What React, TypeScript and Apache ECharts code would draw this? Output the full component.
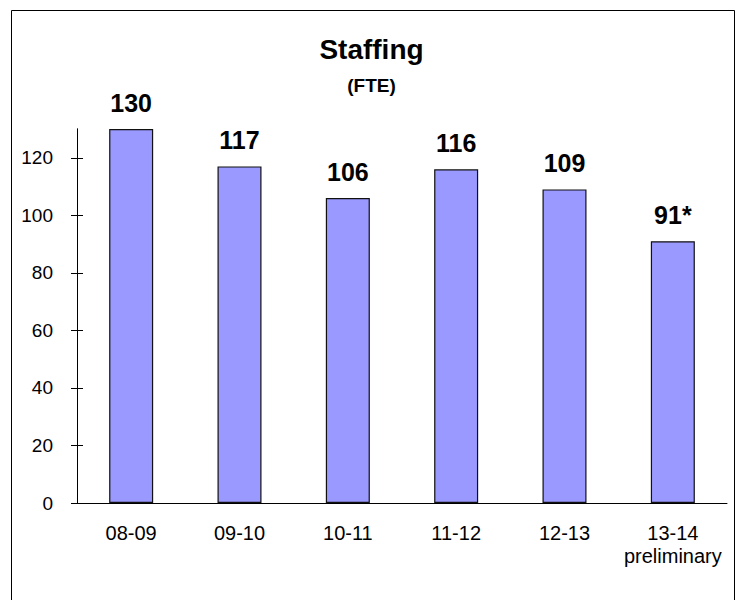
import React, { useEffect, useRef } from "react";
import * as echarts from "echarts";

const categories = ["08-09", "09-10", "10-11", "11-12", "12-13", "13-14\npreliminary"];
const values = [130, 117, 106, 116, 109, 91];
const labelSuffix = ["", "", "", "", "", "*"];
const yTicks = [0, 20, 40, 60, 80, 100, 120];
const titleText = "Staffing";
const subtitleText = "(FTE)";
const yMin = 0;
const yMax = 130;
const yInterval = 20;

const FONT = "'Liberation Sans', Arial, sans-serif";

export default function App() {
  const ref = useRef<HTMLDivElement>(null);
  useEffect(() => {
    if (!ref.current) return;
    const chart = echarts.init(ref.current, undefined, { renderer: "svg" });
    const yBase = {
      type: "value" as const,
      min: yMin,
      max: yMax,
      interval: yInterval,
      splitLine: { show: false },
      axisLine: { show: true, lineStyle: { color: "#000", width: 1 } },
    };
    chart.setOption({
      animation: false,
      backgroundColor: "#fff",
      textStyle: { fontFamily: FONT },
      title: [
        {
          text: titleText,
          left: "center",
          top: 30,
          textStyle: { fontFamily: FONT, fontSize: 28, fontWeight: "bold", color: "#000", lineHeight: 28 },
        },
        {
          text: subtitleText,
          left: "center",
          top: 71,
          textStyle: { fontFamily: FONT, fontSize: 19, fontWeight: "bold", color: "#000", lineHeight: 19 },
        },
      ],
      graphic: [
        {
          type: "rect",
          shape: { x: 11.5, y: 10.5, width: 723, height: 600 },
          style: { fill: "none", stroke: "#000", lineWidth: 1 },
          silent: true,
        },
      ],
      grid: { left: 77, right: 16, top: 129, bottom: 97, containLabel: false },
      xAxis: {
        type: "category",
        data: categories,
        axisLine: { show: true, lineStyle: { color: "#000", width: 1 } },
        axisTick: { show: false },
        axisLabel: {
          interval: 0,
          color: "#000",
          fontFamily: FONT,
          fontSize: 20,
          lineHeight: 23,
          margin: 18,
        },
      },
      yAxis: [
        {
          ...yBase,
          axisTick: { show: true, inside: false, length: 6, customValues: yTicks, lineStyle: { color: "#000" } },
          axisLabel: { color: "#000", fontFamily: FONT, fontSize: 19, margin: 24, customValues: yTicks },
        },
        {
          ...yBase,
          position: "left",
          offset: 0,
          axisTick: { show: true, inside: true, length: 6, customValues: yTicks, lineStyle: { color: "#000" } },
          axisLabel: { show: false },
        },
      ],
      series: [
        {
          type: "bar",
          data: values,
          yAxisIndex: 0,
          barWidth: 44,
          itemStyle: { color: "#9999FF", borderColor: "#111", borderWidth: 1.2 },
          label: {
            show: true,
            position: "top",
            distance: 14,
            color: "#000",
            fontFamily: FONT,
            fontSize: 25,
            fontWeight: "bold",
            lineHeight: 25,
            formatter: (p: any) => `${p.value}${labelSuffix[p.dataIndex]}`,
          },
        },
      ],
    });
    return () => chart.dispose();
  }, []);
  return (
    <div
      ref={ref}
      style={{ position: "absolute", left: 0, top: 0, width: 743, height: 600 }}
    />
  );
}
